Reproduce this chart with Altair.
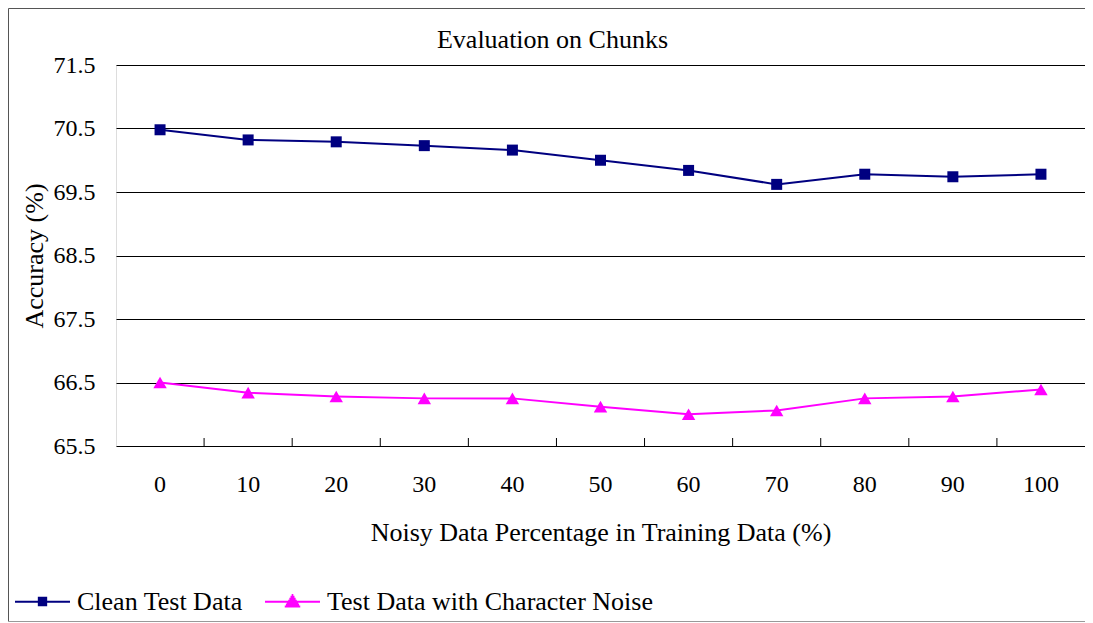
import altair as alt
import pandas as pd

noise_pct = ["0", "10", "20", "30", "40", "50", "60", "70", "80", "90", "100"]
clean_acc = [70.48, 70.32, 70.29, 70.23, 70.16, 70.00, 69.84, 69.62, 69.78, 69.74, 69.78]
noisy_acc = [66.50, 66.34, 66.28, 66.25, 66.25, 66.12, 66.00, 66.06, 66.25, 66.28, 66.39]
series_names = ["Clean Test Data", "Test Data with Character Noise"]
series_colors = ["#000080", "#FF00FF"]
y_ticks = [65.5, 66.5, 67.5, 68.5, 69.5, 70.5, 71.5]
chart_title = ["Evaluation on Chunks"]

FONT = "Liberation Serif"
W, H = 969, 381

df = pd.DataFrame({
    "noise": noise_pct * 2,
    "acc": clean_acc + noisy_acc,
    "series": [series_names[0]] * len(noise_pct) + [series_names[1]] * len(noisy_acc),
})

x_enc = alt.X("noise:O", sort=noise_pct,
              scale=alt.Scale(paddingInner=0, paddingOuter=0),
              axis=alt.Axis(title="Noisy Data Percentage in Training Data (%)",
                            labelAngle=0, ticks=False, tickSize=0, domain=False,
                            labelFont=FONT, labelFontSize=24, labelColor="black",
                            labelBaseline="middle", labelPadding=38,
                            titleFont=FONT, titleFontSize=26, titleFontWeight="normal",
                            titleColor="black", titleBaseline="alphabetic", titleY=94))
y_enc = alt.Y("acc:Q",
              scale=alt.Scale(domain=[65.5, 71.5], nice=False, zero=False),
              axis=alt.Axis(title="Accuracy (%)", values=y_ticks, format=".1f",
                            ticks=False, tickSize=0, domain=False,
                            grid=True, gridColor="black", gridWidth=1, gridOpacity=1,
                            labelFont=FONT, labelFontSize=24, labelColor="black",
                            labelPadding=21,
                            titleFont=FONT, titleFontSize=26, titleFontWeight="normal",
                            titleColor="black", titleBaseline="alphabetic",
                            titleAngle=-90, titleAlign="center", titleX=-74, titleY=H / 2))

color_scale = alt.Scale(domain=series_names, range=series_colors)

one = pd.DataFrame({"a": [0]})
frame_left = alt.Chart(one).mark_rule(color="#555555", strokeWidth=1).encode(
    x=alt.value(-107.5), y=alt.value(-56.5), y2=alt.value(556.5))
frame_top = alt.Chart(one).mark_rule(color="#555555", strokeWidth=1).encode(
    x=alt.value(-107.5), x2=alt.value(W + 40), y=alt.value(-56.5))
frame_bottom = alt.Chart(one).mark_rule(color="#999999", strokeWidth=1).encode(
    x=alt.value(-107.5), x2=alt.value(W + 40), y=alt.value(556.5))

title_text = alt.Chart(pd.DataFrame({"t": chart_title})).mark_text(
    font=FONT, fontSize=26, color="black", align="center", baseline="alphabetic"
).encode(text="t:N", x=alt.value(436.5), y=alt.value(-17.5))

lines = alt.Chart(df).mark_line(strokeWidth=2).encode(
    x=x_enc, y=y_enc,
    color=alt.Color("series:N", scale=color_scale, legend=None),
)

points = alt.Chart(df).mark_point(filled=True, opacity=1).encode(
    x=alt.X("noise:O", sort=noise_pct), y=alt.Y("acc:Q"),
    color=alt.Color("series:N", scale=color_scale, legend=None),
    shape=alt.Shape("series:N", scale=alt.Scale(domain=series_names, range=["square", "triangle-up"]), legend=None),
    size=alt.Size("series:N", scale=alt.Scale(domain=series_names, range=[121, 180]), legend=None),
)

ticks = alt.Chart(pd.DataFrame({"noise": noise_pct[1:]})).mark_rule(color="black", strokeWidth=1).encode(
    x=alt.X("noise:O", sort=noise_pct, bandPosition=0),
    y=alt.value(H - 8), y2=alt.value(H),
)

# legend symbols: a line through a marker (marker filled with stacked strokes)
sq = "M-1,0H1" + "".join(f"M-0.17,{v}H0.17" for v in ["-0.15", "-0.08", "-0.01", "0.06", "0.13"])
tri_rows = [(-0.25, 0.03), (-0.18, 0.072), (-0.11, 0.114), (-0.04, 0.156), (0.03, 0.198), (0.10, 0.24), (0.17, 0.282)]
tri = "M-1,0H1" + "".join(f"M{-hw},{y}H{hw}" for y, hw in tri_rows)
legend_paths = [sq, tri]

leg = alt.Legend(title=None, orient="none", legendX=-102, legendY=508, direction="horizontal",
                 symbolSize=3025, symbolStrokeWidth=2, labelFont=FONT, labelFontSize=26,
                 labelColor="black", labelOffset=6, columnPadding=18, padding=0, labelLimit=600)
legend_layer = alt.Chart(df).transform_filter("false").mark_point(filled=False, opacity=1, strokeWidth=2).encode(
    x=alt.X("noise:O", sort=noise_pct), y=alt.Y("acc:Q"),
    color=alt.Color("series:N", scale=alt.Scale(domain=series_names, range=series_colors), legend=leg),
    shape=alt.Shape("series:N", scale=alt.Scale(domain=series_names, range=legend_paths), legend=leg),
)

chart = alt.layer(frame_left, frame_top, frame_bottom, title_text, lines, ticks, points, legend_layer).resolve_scale(
    shape="independent", color="independent", size="independent"
).properties(
    width=W, height=H,
    autosize=alt.AutoSizeParams(type="none"),
    padding={"left": 108, "top": 57, "right": 0, "bottom": 177},
).configure_view(stroke="black", strokeWidth=1).configure(background="white")

chart.save("out.html", embed_options={"renderer": "svg", "actions": False})
